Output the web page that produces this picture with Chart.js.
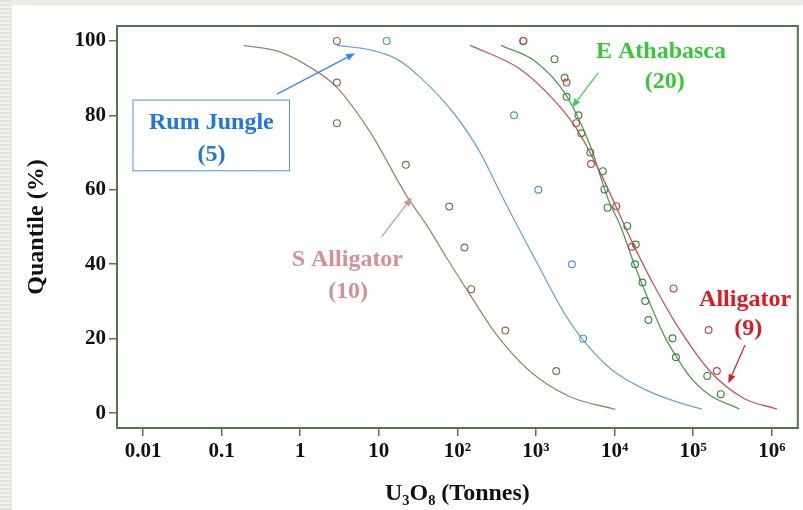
<!DOCTYPE html>
<html><head><meta charset="utf-8">
<script src="https://cdn.jsdelivr.net/npm/chart.js@4.4.1/dist/chart.umd.min.js"></script>
<style>
html,body{margin:0;padding:0;width:803px;height:510px;overflow:hidden;background:#eeebe6;}
#strip{position:absolute;left:0;top:0;width:12px;height:510px;background:repeating-linear-gradient(to bottom,#e4e1dc 0 2px,#f3f1ed 2px 4px);}
#card{position:absolute;left:12px;top:5px;width:791px;height:505px;background:#fff;}
canvas{position:absolute;left:0;top:0;}
</style></head><body>
<div id="strip"></div><div id="card"></div>
<canvas id="c" width="803" height="510"></canvas>
<script>
// ---- Tick labels ----
const xTickValues = [0.01, 0.1, 1, 10, 100, 1000, 10000, 100000, 1000000];
const xTickLabels = ['0.01', '0.1', '1', '10', '10²', '10³', '10⁴', '10⁵', '10⁶'];
const yTickValues = [0, 20, 40, 60, 80, 100];

// ---- Observed points (tonnes U3O8, quantile %) ----
const sAlligatorTonnes   = [2.93, 2.93, 2.93, 22.1, 78.7, 123, 150, 407, 1810];
const sAlligatorQuantile = [100, 88.8, 77.9, 66.7, 55.5, 44.5, 33.3, 22.2, 11.3];

const rumJungleTonnes   = [12.6, 525, 1070, 2860, 3980];
const rumJungleQuantile = [100, 80, 60, 40, 20];

const alligatorTonnes   = [690, 2450, 3240, 5010, 10500, 16600, 56200, 157000, 200000];
const alligatorQuantile = [100, 88.8, 77.9, 66.9, 55.6, 44.7, 33.5, 22.3, 11.3];

const eAthabascaTonnes   = [690, 1720, 2310, 2450, 3470, 3760, 4900, 7080, 7410, 8130,
                            14500, 18600, 18200, 22600, 24500, 26900, 54600, 60300, 151000, 224000];
const eAthabascaQuantile = [100, 95.1, 90.1, 85, 80, 75.2, 70, 65, 60.1, 55.2,
                            50.3, 45.3, 40, 35.1, 30.1, 25, 20.1, 15, 10, 5.1];

// ---- Fitted curves ----
const sAlligatorFitTonnes   = [0.19, 0.56, 1.79, 2.93, 7.76, 22.7, 40.7, 73.5, 146, 316, 851, 2720, 10230];
const sAlligatorFitQuantile = [98.8, 97.0, 91.2, 87.5, 75.5, 58.3, 50.5, 41.6, 31.7, 21, 11.1, 4.4, 1.0];

const rumJungleFitTonnes   = [2.93, 7.76, 17, 33.7, 89, 195, 351, 589, 1120, 2240, 3980, 8790, 23400, 61700, 129000];
const rumJungleFitQuantile = [98.8, 97.6, 95.1, 90.2, 80.7, 70, 59.2, 50, 38.9, 27.2, 19.6, 12, 6.5, 3, 1.1];

const alligatorFitTonnes   = [146, 631, 1660, 3310, 6560, 17400, 31600, 61700, 166000, 437000, 1160000];
const alligatorFitQuantile = [98.8, 92.4, 84.3, 76.3, 64.6, 45.2, 34.4, 23.7, 11.1, 4, 1.1];

const eAthabascaFitTonnes   = [361, 1020, 2450, 4900, 8320, 12000, 17800, 27500, 44700, 61700, 89100, 158000, 389000];
const eAthabascaFitQuantile = [98.8, 94.2, 85.2, 71.8, 57.4, 50, 40, 30, 20, 15, 10, 5, 1.1];

// ---- Labels / annotations (in data coordinates) ----
const annotationTexts = [
  {lines: ['Rum Jungle', '(5)'], color: '#1f74ea', at: [[0.0741, 78.0], [0.0741, 69.4]]},
  {lines: ['E Athabasca', '(20)'], color: '#36c936', at: [[38900, 97.0], [43600, 89.0]]},
  {lines: ['S Alligator', '(10)'], color: '#d39098', at: [[3.98, 41.1], [4.07, 32.5]]},
  {lines: ['Alligator', '(9)'], color: '#e0181f', at: [[457000, 30.4], [501000, 22.6]]}
];
const annotationArrows = [
  {color: '#3a86f2', from: [0.506, 85.7], to: [5.0, 96.7]},
  {color: '#44cc44', from: [6220, 91.5], to: [2860, 82.1]},
  {color: '#d39098', from: [10.9, 47.4], to: [26.3, 57.9]},
  {color: '#e0181f', from: [457000, 18.3], to: [280000, 8.0]}
];
const rumJungleBox = {color: '#4f93f2', from: [0.00745, 84.1], to: [0.731, 65.1]};

const FRAME = '#53764a';
const FONT = 'Liberation Serif';

function pairs(xs, ys) { return xs.map((x, i) => ({x: x, y: ys[i]})); }

function lineDs(xs, ys, color) {
  return {data: pairs(xs, ys), showLine: true, borderColor: color, borderWidth: 1.3,
          pointRadius: 0, cubicInterpolationMode: 'monotone', fill: false};
}
function pointDs(xs, ys, color) {
  return {data: pairs(xs, ys), showLine: false, borderColor: color, backgroundColor: 'rgba(0,0,0,0)',
          pointRadius: 3.4, pointBorderWidth: 1.2, pointStyle: 'circle'};
}

const framePlugin = {
  id: 'frame',
  afterDraw(chart) {
    const a = chart.chartArea, c = chart.ctx;
    c.save();
    c.strokeStyle = FRAME; c.lineWidth = 2;
    c.strokeRect(a.left, a.top, a.right - a.left, a.bottom - a.top);
    c.restore();
  }
};

function arrow(c, x1, y1, x2, y2, color) {
  c.save();
  c.strokeStyle = color; c.fillStyle = color; c.lineWidth = 1.2;
  const ang = Math.atan2(y2 - y1, x2 - x1);
  const L = 9, W = 3.5;
  const bx = x2 - L * Math.cos(ang), by = y2 - L * Math.sin(ang);
  c.beginPath(); c.moveTo(x1, y1); c.lineTo(bx, by); c.stroke();
  c.beginPath();
  c.moveTo(x2, y2);
  c.lineTo(bx + W * Math.sin(ang), by - W * Math.cos(ang));
  c.lineTo(bx - W * Math.sin(ang), by + W * Math.cos(ang));
  c.closePath(); c.fill();
  c.restore();
}

const annotationPlugin = {
  id: 'annot',
  afterDatasetsDraw(chart) {
    const c = chart.ctx, sx = chart.scales.x, sy = chart.scales.y;
    const px = v => sx.getPixelForValue(v), py = v => sy.getPixelForValue(v);
    c.save();
    const b = rumJungleBox;
    c.strokeStyle = b.color; c.lineWidth = 1;
    c.strokeRect(px(b.from[0]), py(b.from[1]), px(b.to[0]) - px(b.from[0]), py(b.to[1]) - py(b.from[1]));
    annotationArrows.forEach(a => arrow(c, px(a.from[0]), py(a.from[1]), px(a.to[0]), py(a.to[1]), a.color));
    c.font = 'bold 24px "' + FONT + '"';
    c.textAlign = 'center'; c.textBaseline = 'middle';
    annotationTexts.forEach(t => {
      c.fillStyle = t.color;
      t.lines.forEach((ln, i) => c.fillText(ln, px(t.at[i][0]), py(t.at[i][1])));
    });
    c.restore();
  }
};

const BROWN_L = '#a3846a', BROWN_P = '#8f6c50';
const BLUE_L = '#6ea2dc', BLUE_P = '#5592d6';
const GREEN_L = '#4f9a4f', GREEN_P = '#3f8a3f';
const RED_L = '#c2585a', RED_P = '#c8474a';

new Chart(document.getElementById('c'), {
  type: 'scatter',
  data: {
    datasets: [
      pointDs(sAlligatorTonnes, sAlligatorQuantile, BROWN_P),
      pointDs(rumJungleTonnes, rumJungleQuantile, BLUE_P),
      pointDs(alligatorTonnes, alligatorQuantile, RED_P),
      pointDs(eAthabascaTonnes, eAthabascaQuantile, GREEN_P),
      lineDs(sAlligatorFitTonnes, sAlligatorFitQuantile, BROWN_L),
      lineDs(rumJungleFitTonnes, rumJungleFitQuantile, BLUE_L),
      lineDs(alligatorFitTonnes, alligatorFitQuantile, RED_L),
      lineDs(eAthabascaFitTonnes, eAthabascaFitQuantile, GREEN_L)
    ]
  },
  options: {
    responsive: false, animation: false, devicePixelRatio: 1,
    layout: {padding: {left: 12, top: 26, right: 5, bottom: 0}},
    plugins: {legend: {display: false}, tooltip: {enabled: false}},
    scales: {
      x: {
        type: 'logarithmic', position: 'bottom',
        min: Math.pow(10, -2.331), max: Math.pow(10, 6.331),
        afterBuildTicks: s => { s.ticks = xTickValues.map(v => ({value: v})); },
        afterFit: s => { s.height = 82; },
        ticks: {callback: (v, i) => xTickLabels[i], color: '#111', autoSkip: false, maxRotation: 0,
                font: {family: FONT, size: 21, weight: 'bold'}, padding: 3},
        grid: {drawOnChartArea: false, drawTicks: true, tickLength: 8, color: FRAME, lineWidth: 1.5},
        border: {display: true, color: FRAME, width: 2},
        title: {display: true, text: 'U₃O₈ (Tonnes)', color: '#111',
                font: {family: FONT, size: 24, weight: 'bold'}, padding: {top: 0, bottom: 2}}
      },
      y: {
        type: 'linear', position: 'left', min: -4, max: 104,
        afterBuildTicks: s => { s.ticks = yTickValues.map(v => ({value: v})); },
        afterFit: s => { s.width = 105; },
        ticks: {callback: v => String(v), color: '#111',
                font: {family: FONT, size: 21, weight: 'bold'}, padding: 3},
        grid: {drawOnChartArea: false, drawTicks: true, tickLength: 8, color: FRAME, lineWidth: 1.5},
        border: {display: true, color: FRAME, width: 2},
        title: {display: true, text: 'Quantile (%)', color: '#111',
                font: {family: FONT, size: 24, weight: 'bold'}, padding: {top: 10, bottom: 0}}
      }
    }
  },
  plugins: [framePlugin, annotationPlugin]
});
</script>
</body></html>
